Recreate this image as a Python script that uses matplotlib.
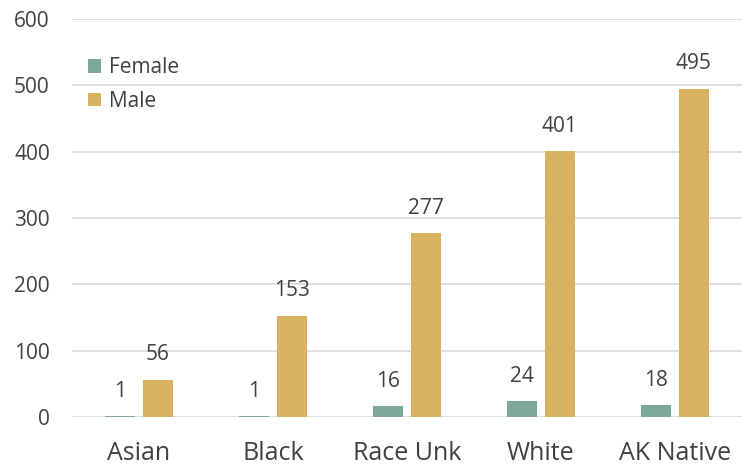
import numpy as np
import matplotlib.pyplot as plt

races = ['Asian', 'Black', 'Race Unk', 'White', 'AK Native']
female = [1, 1, 16, 24, 18]
male = [56, 153, 277, 401, 495]

c_female = '#7BA89B'
c_male = '#D8B25E'
txt = '#404040'

plt.rcParams['font.family'] = ['Open Sans', 'DejaVu Sans']

fig = plt.figure(figsize=(7.48, 4.66), dpi=100)
ax = fig.add_axes([0.0963, 0.105, 0.8951, 0.854])

x = np.arange(len(races))
w = 0.224
off = 0.142
b1 = ax.bar(x - off, female, w, color=c_female, label='Female', zorder=3)
b2 = ax.bar(x + off, male, w, color=c_male, label='Male', zorder=3)

for bars, vals in [(b1, female), (b2, male)]:
    for r, v in zip(bars, vals):
        ax.annotate(str(v), (r.get_x() + r.get_width() / 2, v),
                    xytext=(0, 18), textcoords='offset points',
                    ha='center', va='center', fontsize=15, color=txt)

ax.set_xlim(-0.5, len(races) - 0.5)
ax.set_ylim(0, 600)
ax.set_yticks(range(0, 601, 100))
ax.set_xticks(x)
ax.set_xticklabels(races)
ax.yaxis.grid(True, color='#D9D9D9', lw=1.2, zorder=0)
ax.set_axisbelow(True)
for s in ax.spines.values():
    s.set_visible(False)
ax.tick_params(axis='y', length=0, pad=16, labelsize=15, labelcolor=txt)
ax.tick_params(axis='x', length=0, pad=17, labelsize=18, labelcolor=txt)

leg = ax.legend(loc='upper left', bbox_to_anchor=(0.005, 0.935), frameon=False,
                fontsize=15, handlelength=0.62, handleheight=0.62,
                handletextpad=0.4, labelspacing=0.6, borderaxespad=0.2)
for t in leg.get_texts():
    t.set_color(txt)

fig.savefig('out.png', dpi=100)
